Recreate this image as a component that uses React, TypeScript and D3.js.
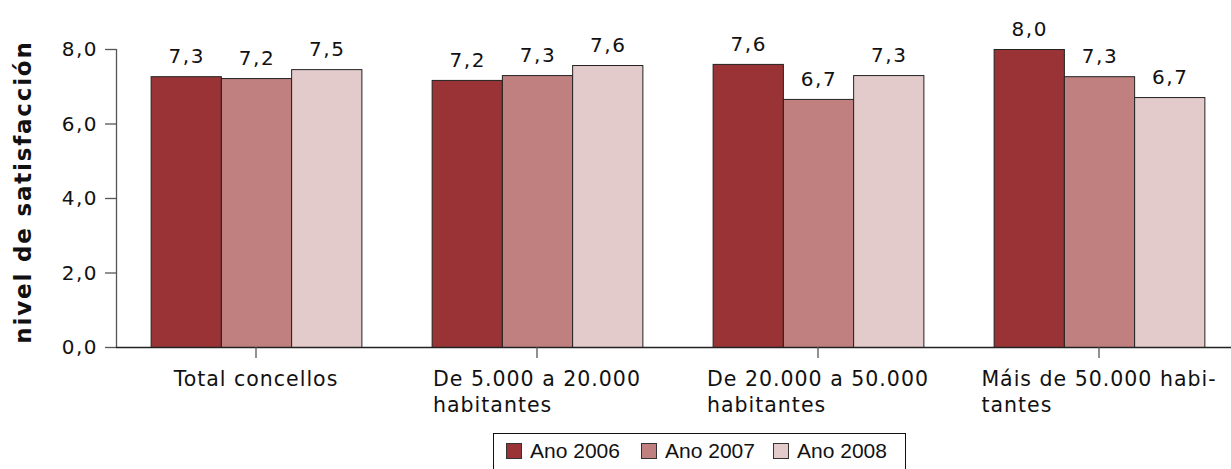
import React, { useEffect, useRef } from "react";
import * as d3 from "d3";

const categories = ["Total concellos", "De 5.000 a 20.000 habitantes", "De 20.000 a 50.000 habitantes", "Máis de 50.000 habitantes"];
const categoryLines = [["Total concellos"], ["De 5.000 a 20.000", "habitantes"], ["De 20.000 a 50.000", "habitantes"], ["Máis de 50.000 habi-", "tantes"]];
const seriesNames = ["Ano 2006", "Ano 2007", "Ano 2008"];
const ano2006 = [7.27, 7.17, 7.6, 8.0];
const ano2007 = [7.22, 7.3, 6.66, 7.27];
const ano2008 = [7.46, 7.57, 7.3, 6.71];
const yTicks = [0, 2, 4, 6, 8];
const colors = ["#993335", "#c08080", "#e3cbcb"];

const W = 1231, H = 469;

export default function App() {
  const ref = useRef<SVGSVGElement>(null);
  useEffect(() => {
    const svg = d3.select(ref.current);
    svg.selectAll("*").remove();
    const series = [ano2006, ano2007, ano2008];
    const x0 = d3.scaleBand().domain(categories).range([115.5, 1239.5]).paddingInner(0.25).paddingOuter(0.125);
    const x1 = d3.scaleBand().domain(seriesNames).range([0, x0.bandwidth()]);
    const y = d3.scaleLinear().domain([0, 8]).range([347, 49]);
    const font = "'DejaVu Sans', sans-serif";

    // bars
    categories.forEach((c, ci) => {
      seriesNames.forEach((s, si) => {
        const v = series[si][ci];
        const bx = x0(c)! + x1(s)!;
        svg.append("rect")
          .attr("x", bx + 0.5).attr("y", y(v) + 0.5)
          .attr("width", x1.bandwidth()).attr("height", y(0) - y(v))
          .attr("fill", colors[si]).attr("stroke", "#222").attr("stroke-width", 1);
        svg.append("text")
          .attr("x", bx + x1.bandwidth() / 2 + 1).attr("y", y(v) - 13)
          .attr("text-anchor", "middle").attr("font-family", font).attr("font-size", 20)
          .attr("letter-spacing", 1.6).attr("fill", "#111")
          .text(d3.format(".1f")(v).replace(".", ","));
      });
    });

    // y axis
    const axisColor = "#555";
    svg.append("line").attr("x1", 116.5).attr("x2", 116.5).attr("y1", y(8)).attr("y2", y(0))
      .attr("stroke", axisColor).attr("stroke-width", 1.3);
    yTicks.forEach(t => {
      svg.append("line").attr("x1", 105).attr("x2", 116.5).attr("y1", y(t) + 0.5).attr("y2", y(t) + 0.5)
        .attr("stroke", axisColor).attr("stroke-width", 1.3);
      svg.append("text").attr("x", 98).attr("y", y(t) + 7).attr("text-anchor", "end")
        .attr("font-family", font).attr("font-size", 20).attr("letter-spacing", 1.5).attr("fill", "#111")
        .text(d3.format(".1f")(t).replace(".", ","));
    });

    // x axis
    svg.append("line").attr("x1", 116).attr("x2", W).attr("y1", y(0) + 0.5).attr("y2", y(0) + 0.5)
      .attr("stroke", "#222").attr("stroke-width", 1.3);
    categories.forEach((c, ci) => {
      const cx = x0(c)! + x0.bandwidth() / 2;
      svg.append("line").attr("x1", cx).attr("x2", cx).attr("y1", y(0)).attr("y2", y(0) + 11)
        .attr("stroke", axisColor).attr("stroke-width", 1.3);
      const g = svg.append("g");
      const texts = categoryLines[ci].map((ln, li) =>
        g.append("text").attr("y", 386 + li * 26).attr("font-family", font).attr("font-size", 20.5)
          .attr("letter-spacing", 1).attr("fill", "#111").text(ln));
      const widths = texts.map(t => (t.node() as SVGTextElement).getComputedTextLength());
      const maxW = Math.max(...widths);
      texts.forEach(t => t.attr("x", cx - maxW / 2));
    });

    // y title
    svg.append("text").attr("transform", `translate(31,192) rotate(-90)`)
      .attr("text-anchor", "middle").attr("font-family", font).attr("font-weight", "bold")
      .attr("font-size", 23).attr("letter-spacing", 1.8).attr("fill", "#111")
      .text("nivel de satisfacción");

    // legend
    svg.append("rect").attr("x", 493.5).attr("y", 433.5).attr("width", 412).attr("height", 45)
      .attr("fill", "#fff").attr("stroke", "#111").attr("stroke-width", 1);
    const legX = [506, 641, 773];
    seriesNames.forEach((s, si) => {
      svg.append("rect").attr("x", legX[si] + 0.5).attr("y", 443.5).attr("width", 15).attr("height", 15)
        .attr("fill", colors[si]).attr("stroke", "#333").attr("stroke-width", 1);
      svg.append("text").attr("x", legX[si] + 24).attr("y", 458).attr("font-family", "'Liberation Sans', Arial, sans-serif")
        .attr("font-size", 21).attr("fill", "#111").text(s);
    });
  }, []);
  return <svg ref={ref} width={W} height={H} style={{ position: "absolute", left: 0, top: 0, background: "#fff" }} />;
}
